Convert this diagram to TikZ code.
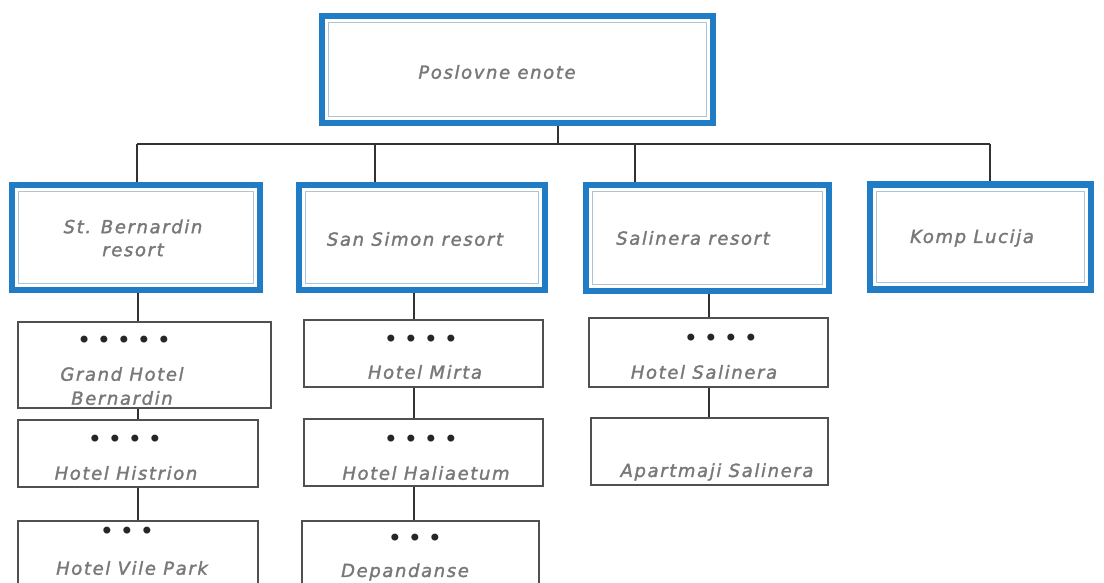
\documentclass[tikz,border=0pt]{standalone}
\usepackage{fontspec}
\newfontfamily\lblfont{DejaVu Sans}[LetterSpace=9, FakeBold=1.6]
\newfontfamily\dotfont{DejaVu Sans}
\definecolor{bblue}{RGB}{32,124,196}
\definecolor{binner}{RGB}{170,198,220}
\definecolor{txt}{RGB}{120,120,120}
\definecolor{ln}{RGB}{50,50,50}
\definecolor{boxgray}{RGB}{80,80,80}
\tikzset{
  bluebox/.style={draw=bblue, line width=6.5pt, fill=white, inner sep=0pt},
  hotelbox/.style={draw=boxgray, line width=1.8pt, inner sep=0pt},
  innerline/.style={draw=binner, line width=1.2pt},
  lbl/.style={font=\lblfont\itshape\fontsize{18}{23}\selectfont, text=txt, inner sep=0pt, align=center},
  stars/.style={font=\dotfont\fontsize{24}{24}\selectfont, text=black!85, inner sep=0pt},
  conn/.style={draw=ln, line width=1.8pt},
}
\newcommand\innerframe[1]{\draw[innerline] ([shift={(10,10)}]#1.north west) rectangle ([shift={(-10,-10)}]#1.south east);}
\newcommand\sss{\hspace{5.8pt}}
\begin{document}
\begin{tikzpicture}[x=1pt,y=-1pt]
\useasboundingbox (0,0) rectangle (1104,583);
\clip (0,0) rectangle (1104,583);
% top
\node[bluebox, minimum width=391, minimum height=107] (top) at (517.5,69.5) {};
\innerframe{top}
\node[lbl] (ttop) at (497,72) {Poslovne enote};
% level 2
\node[bluebox, minimum width=248, minimum height=105] (stb) at (136,237.5) {};
\node[bluebox, minimum width=246, minimum height=105] (ss) at (422,237.5) {};
\node[bluebox, minimum width=243, minimum height=106] (sal) at (707.5,238) {};
\node[bluebox, minimum width=221, minimum height=105] (komp) at (980.5,237) {};
\innerframe{stb}\innerframe{ss}\innerframe{sal}\innerframe{komp}
\node[lbl] (tstb) at (133,238) {St. Bernardin\\resort};
\node[lbl] (tss) at (415,239) {San Simon resort};
\node[lbl] (tsal) at (693,238) {Salinera resort};
\node[lbl] (tkomp) at (972,238) {Komp Lucija};
% bus
\coordinate (bus) at (558,144);
\coordinate (dstb) at (137,144);
\coordinate (dss) at (375,144);
\coordinate (dsal) at (635,144);
\coordinate (dkomp) at (990,144);
\draw[conn] (top.south -| bus) -- (bus);
\draw[conn] (dstb) -- (dkomp);
\draw[conn] (dstb) -- (dstb |- stb.north);
\draw[conn] (dss) -- (dss |- ss.north);
\draw[conn] (dsal) -- (dsal |- sal.north);
\draw[conn] (dkomp) -- (dkomp |- komp.north);
% level 3 boxes
\node[hotelbox, minimum width=253, minimum height=86] (gh) at (144.5,365) {};
\node[hotelbox, minimum width=240, minimum height=67] (hist) at (138,453.5) {};
\node[hotelbox, minimum width=240, minimum height=80] (vile) at (138,561) {};
\node[hotelbox, minimum width=239, minimum height=67] (mirta) at (423.5,353.5) {};
\node[hotelbox, minimum width=239, minimum height=67] (hal) at (423.5,452.5) {};
\node[hotelbox, minimum width=237, minimum height=80] (dep) at (420.5,561) {};
\node[hotelbox, minimum width=239, minimum height=69] (hsal) at (708.5,352.5) {};
\node[hotelbox, minimum width=237, minimum height=67] (apt) at (709.5,451.5) {};
% columns
\coordinate (cb) at (138,0);
\coordinate (cs) at (414,0);
\coordinate (cl) at (709,0);
\draw[conn] (stb.south -| cb) -- (gh.north -| cb);
\draw[conn] (gh.south -| cb) -- (hist.north -| cb);
\draw[conn] (hist.south -| cb) -- (vile.north -| cb);
\draw[conn] (ss.south -| cs) -- (mirta.north -| cs);
\draw[conn] (mirta.south -| cs) -- (hal.north -| cs);
\draw[conn] (hal.south -| cs) -- (dep.north -| cs);
\draw[conn] (sal.south -| cl) -- (hsal.north -| cl);
\draw[conn] (hsal.south -| cl) -- (apt.north -| cl);
% stars and texts
\node[stars] (sgh) at (124,342) {•\sss•\sss•\sss•\sss•};
\node[lbl, font=\lblfont\itshape\fontsize{18}{24}\selectfont] (tgh) at (122,386) {Grand Hotel\\Bernardin};
\node[stars] (shist) at (125,441) {•\sss•\sss•\sss•};
\node[lbl] (thist) at (126,473) {Hotel Histrion};
\node[stars] (svile) at (127,533) {•\sss•\sss•};
\node[lbl] (tvile) at (132,568) {Hotel Vile Park};
\node[stars] (smirta) at (421,341) {•\sss•\sss•\sss•};
\node[lbl] (tmirta) at (425,372) {Hotel Mirta};
\node[stars] (shal) at (421,441) {•\sss•\sss•\sss•};
\node[lbl] (thal) at (426,473) {Hotel Haliaetum};
\node[stars] (sdep) at (415,540) {•\sss•\sss•};
\node[lbl] (tdep) at (405,572) {Depandanse};
\node[stars] (shsal) at (721,340) {•\sss•\sss•\sss•};
\node[lbl] (thsal) at (704,372) {Hotel Salinera};
\node[lbl] (tapt) at (717,472) {Apartmaji Salinera};
\end{tikzpicture}
\end{document}
